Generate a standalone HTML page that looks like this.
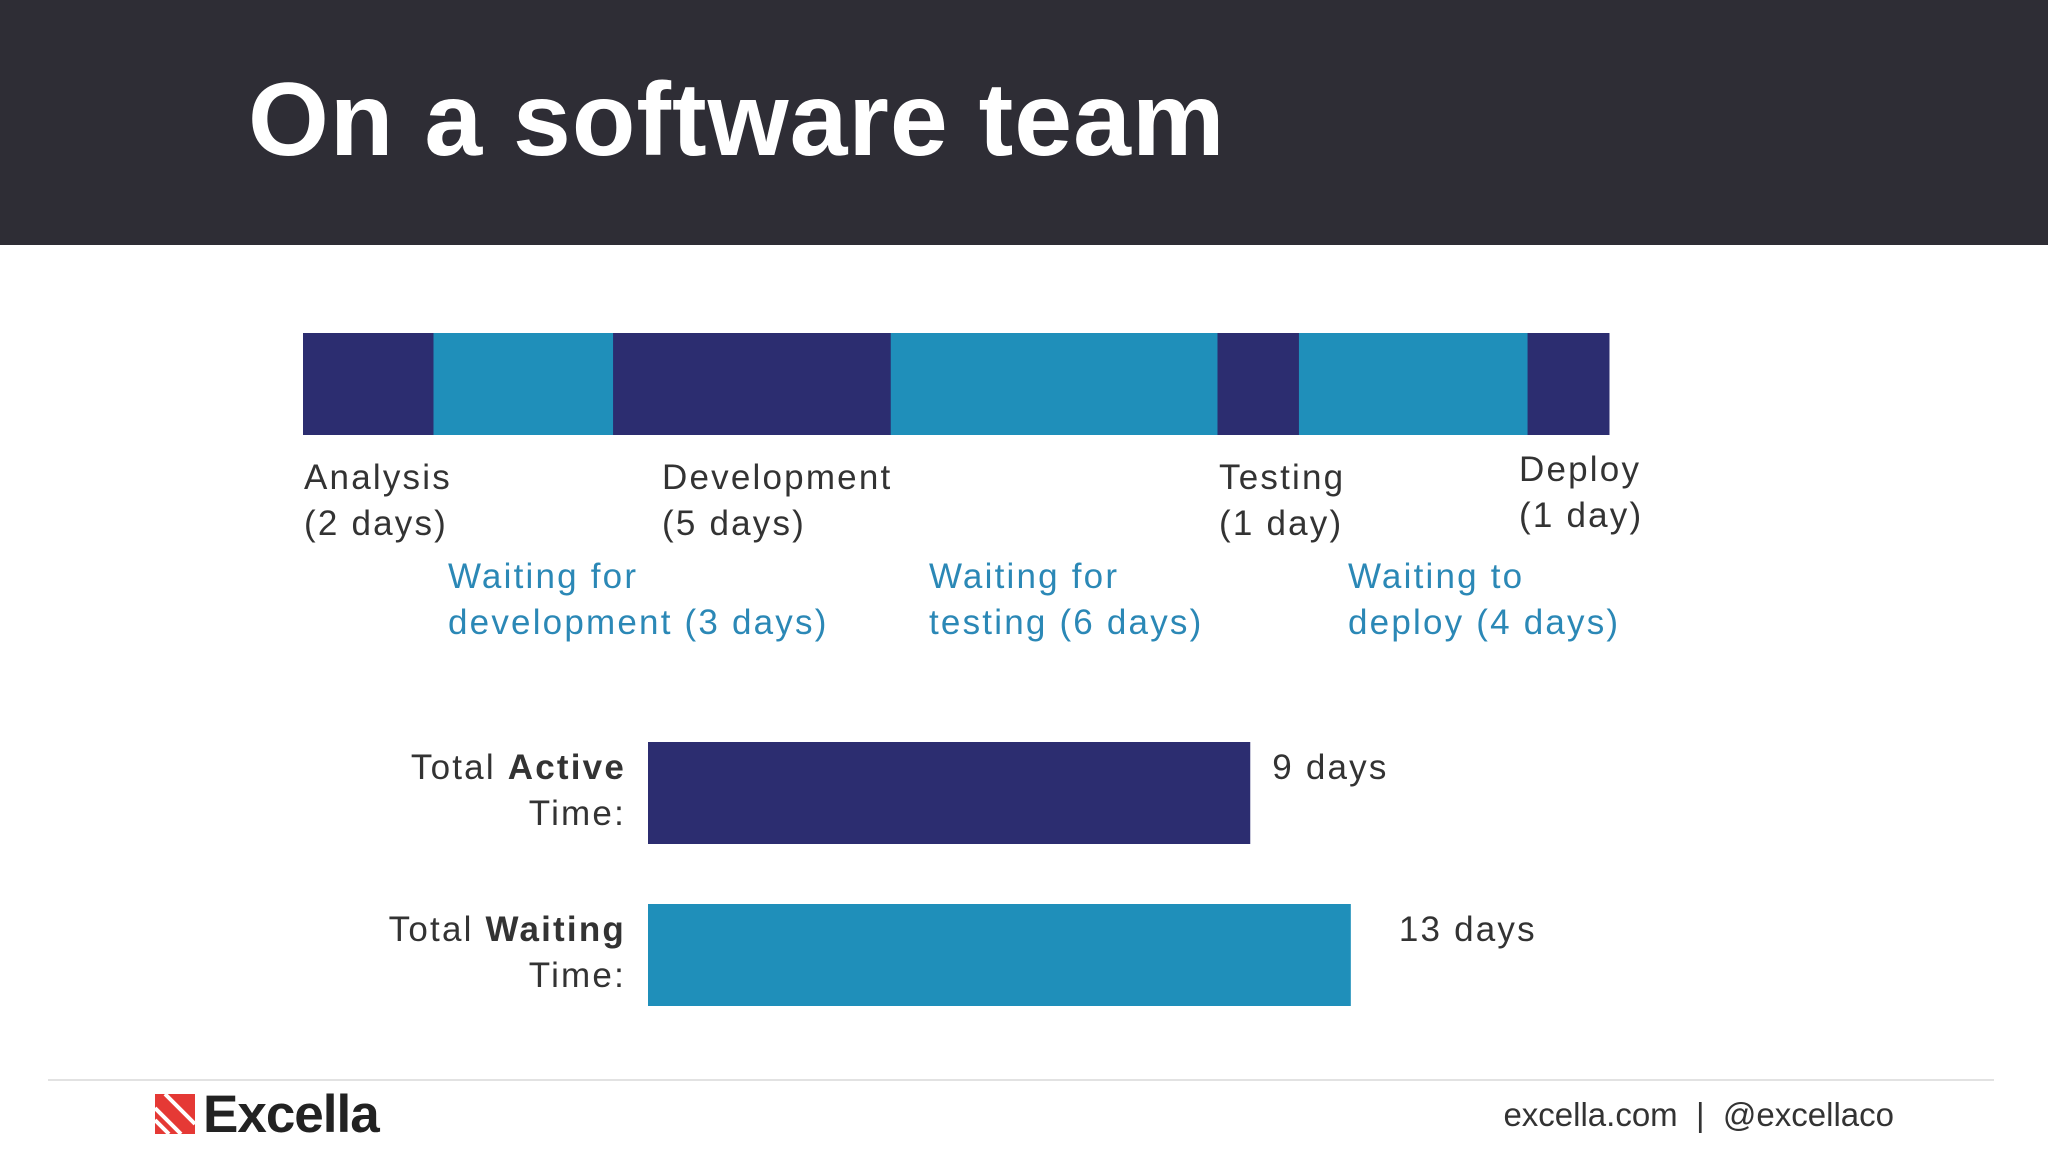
<!DOCTYPE html>
<html><head><meta charset="utf-8"><style>
body{margin:0;width:2048px;height:1152px;background:#fff;overflow:hidden;font-family:"Liberation Sans",sans-serif;position:relative}
.abs{position:absolute;white-space:nowrap}
.lbl{font-size:35px;line-height:46px;color:#333;letter-spacing:2.2px}
.wait{font-size:35px;line-height:46px;color:#2b88b6;letter-spacing:2.2px}
</style></head><body>
<div class="abs" style="left:0;top:0;width:2048px;height:245px;background:#2e2d35"></div>
<div class="abs" style="left:248px;top:60px;font-size:104px;font-weight:bold;color:#fff;line-height:120px;letter-spacing:1px">On a software team</div>
<svg id="chart" class="abs" style="left:0;top:0" width="2048" height="1152"></svg>
<div class="abs" style="left:48px;top:1079px;width:1946px;height:2px;background:#e2e2e2"></div>
<div class="abs" style="left:155px;top:1090px;height:50px">
<svg width="46" height="44" style="position:absolute;left:0;top:4px">
<polygon points="0,0 40,0 40,40 0,40" fill="#e53935"/>
<line x1="0" y1="14" x2="26" y2="40" stroke="#fff" stroke-width="4"/>
<line x1="0" y1="26" x2="14" y2="40" stroke="#fff" stroke-width="4"/>
<line x1="10" y1="0" x2="40" y2="30" stroke="#fff" stroke-width="4"/>
</svg>
<span style="position:absolute;left:48px;top:-6px;font-size:53px;font-weight:bold;color:#222;letter-spacing:-1px">Excella</span>
</div>
<div class="abs" style="right:154px;top:1096px;font-size:33px;color:#333">excella.com &nbsp;|&nbsp; @excellaco</div>
<script>
const stages=["Analysis","Waiting for development","Development","Waiting for testing","Testing","Waiting to deploy","Deploy"];
const stageDays=[2,3,5,6,1,4,1];
const stageKinds=["active","wait","active","wait","active","wait","active"];
const totalsLabels=["Active","Waiting"];
const totalsDays=[9,13];
const svg=document.getElementById('chart');
const NS='http://www.w3.org/2000/svg';
const colors={active:'#2c2d70',wait:'#1f8fba'};
const pad=0.66;
const labelLeft=[304,448,662,929,1219,1348,1519];
const labelTop=[455,554,455,554,455,554,447];
const sumW=stageDays.reduce((a,b)=>a+b+pad,0);
const x0=303,x1=1609;
function xStage(u){return x0+(x1-x0)*u/sumW;}
let acc=0;
stageDays.forEach((d,i)=>{
  const u=d+pad;
  const r=document.createElementNS(NS,'rect');
  r.setAttribute('x',xStage(acc));r.setAttribute('y',333);
  r.setAttribute('width',xStage(acc+u)-xStage(acc)+0.5);r.setAttribute('height',102);
  r.setAttribute('fill',colors[stageKinds[i]]);
  
  
  svg.appendChild(r);
  const lab=document.createElement('div');
  const active=stageKinds[i]==='active';
  lab.className='abs '+(active?'lbl':'wait');
  lab.style.left=labelLeft[i]+'px';
  lab.style.top=labelTop[i]+'px';
  const unit=d===1?'day':'days';
  if(active) lab.innerHTML=stages[i]+'<br>('+d+' '+unit+')';
  else { const w=stages[i].split(' '); const tail=w.pop(); lab.innerHTML=w.join(' ')+'<br>'+tail+' ('+d+' '+unit+')'; }
  
  
  document.body.appendChild(lab);
  acc+=u;
});
const bx=648, base=376, perDay=25.14;
function wTotal(v){return base+perDay*v;}
const rowY=[742,904];
totalsDays.forEach((v,i)=>{
  const r=document.createElementNS(NS,'rect');
  r.setAttribute('x',bx);r.setAttribute('y',rowY[i]);
  r.setAttribute('width',wTotal(v));r.setAttribute('height',102);
  r.setAttribute('fill',i===0?colors.active:colors.wait);
  
  
  svg.appendChild(r);
  const l=document.createElement('div');
  l.className='abs lbl';l.style.right=(2048-626)+'px';l.style.top=(rowY[i]+3)+'px';l.style.textAlign='right';
  l.innerHTML='Total <b>'+totalsLabels[i]+'</b><br>Time:';
  
  
  document.body.appendChild(l);
  const vl=document.createElement('div');
  vl.className='abs lbl';vl.style.left=(bx+wTotal(v)+(i===0?22:48))+'px';vl.style.top=(rowY[i]+3)+'px';
  vl.textContent=v+' days';
  
  
  document.body.appendChild(vl);
});
</script>
</body></html>
